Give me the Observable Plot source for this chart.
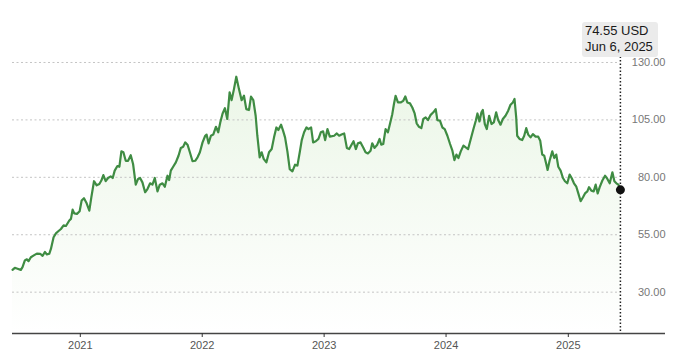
<!DOCTYPE html>
<html>
<head>
<meta charset="utf-8">
<script src="https://cdn.jsdelivr.net/npm/d3@7"></script>
<script src="https://cdn.jsdelivr.net/npm/@observablehq/plot@0.6"></script>
<style>
  html, body { margin: 0; padding: 0; background: #fff; }
  #wrap { position: relative; width: 680px; height: 358px; font-family: "Liberation Sans", Arial, Helvetica, sans-serif; }
  #tip { position: absolute; top: 22px; background: #ebebeb; border-radius: 3px; padding: 1px 5px 2px 3px;
         font-size: 13px; line-height: 16px; color: #1a1a1a; white-space: nowrap; }
</style>
</head>
<body>
<div id="wrap"></div>
<script>
const dates = [
"2020-06-12","2020-06-19","2020-06-27","2020-07-07","2020-07-12","2020-07-19","2020-07-25","2020-07-30","2020-08-06","2020-08-16",
"2020-08-24","2020-09-03","2020-09-10","2020-09-17","2020-09-23","2020-09-30","2020-10-05","2020-10-13","2020-10-20","2020-10-27",
"2020-11-04","2020-11-12","2020-11-19","2020-11-29","2020-12-04","2020-12-09","2020-12-14","2020-12-22","2020-12-30","2021-01-05",
"2021-01-12","2021-01-20","2021-01-28","2021-02-03","2021-02-11","2021-02-19","2021-02-27","2021-03-05","2021-03-11","2021-03-18",
"2021-03-25","2021-04-02","2021-04-08","2021-04-14","2021-04-22","2021-04-28","2021-05-04","2021-05-10","2021-05-17","2021-05-24",
"2021-06-01","2021-06-08","2021-06-16","2021-06-23","2021-06-29","2021-07-06","2021-07-14","2021-07-21","2021-07-29","2021-08-05",
"2021-08-12","2021-08-20","2021-08-27","2021-09-04","2021-09-11","2021-09-19","2021-09-24","2021-09-29","2021-10-06","2021-10-14",
"2021-10-22","2021-10-29","2021-11-05","2021-11-11","2021-11-18","2021-11-25","2021-12-03","2021-12-11","2021-12-18","2021-12-25",
"2022-01-02","2022-01-10","2022-01-14","2022-01-20","2022-01-27","2022-02-03","2022-02-11","2022-02-18","2022-02-24","2022-03-03",
"2022-03-10","2022-03-17","2022-03-24","2022-03-30","2022-04-06","2022-04-13","2022-04-21","2022-04-29","2022-05-06","2022-05-13",
"2022-05-21","2022-05-27","2022-06-03","2022-06-10","2022-06-15","2022-06-22","2022-06-28","2022-07-04","2022-07-12","2022-07-20",
"2022-07-28","2022-08-04","2022-08-11","2022-08-17","2022-08-25","2022-08-31","2022-09-06","2022-09-13","2022-09-20","2022-09-28",
"2022-10-06","2022-10-13","2022-10-20","2022-10-26","2022-11-02","2022-11-09","2022-11-15","2022-11-23","2022-11-29","2022-12-07",
"2022-12-15","2022-12-22","2022-12-29","2023-01-04","2023-01-11","2023-01-18","2023-01-31","2023-02-08","2023-02-15","2023-02-22",
"2023-03-02","2023-03-10","2023-03-17","2023-03-24","2023-03-30","2023-04-06","2023-04-12","2023-04-20","2023-04-28","2023-05-05",
"2023-05-12","2023-05-20","2023-05-25","2023-06-01","2023-06-09","2023-06-16","2023-06-21","2023-06-27","2023-07-04","2023-07-11",
"2023-07-17","2023-07-24","2023-07-29","2023-08-03","2023-08-10","2023-08-18","2023-08-26","2023-09-01","2023-09-07","2023-09-15",
"2023-09-22","2023-09-29","2023-10-05","2023-10-12","2023-10-19","2023-10-25","2023-11-01","2023-11-08","2023-11-16","2023-11-24",
"2023-12-01","2023-12-06","2023-12-14","2023-12-21","2023-12-28","2024-01-05","2024-01-13","2024-01-20","2024-01-26","2024-02-01",
"2024-02-07","2024-02-14","2024-02-22","2024-02-29","2024-03-07","2024-03-15","2024-03-23","2024-03-30","2024-04-04","2024-04-10",
"2024-04-16","2024-04-20","2024-04-26","2024-05-02","2024-05-09","2024-05-16","2024-05-23","2024-05-30","2024-06-05","2024-06-12",
"2024-06-19","2024-06-27","2024-07-05","2024-07-12","2024-07-19","2024-07-24","2024-07-29","2024-08-01","2024-08-08","2024-08-16",
"2024-08-22","2024-08-28","2024-09-03","2024-09-10","2024-09-17","2024-09-25","2024-10-03","2024-10-09","2024-10-15","2024-10-21",
"2024-10-27","2024-10-31","2024-11-06","2024-11-14","2024-11-20","2024-11-26","2024-12-02","2024-12-09","2024-12-16","2024-12-22",
"2024-12-29","2025-01-05","2025-01-11","2025-01-18","2025-01-25","2025-01-31","2025-02-07","2025-02-14","2025-02-20","2025-02-27",
"2025-03-04","2025-03-11","2025-03-18","2025-03-24","2025-03-30","2025-04-05","2025-04-13","2025-04-21","2025-04-28","2025-05-05",
"2025-05-13","2025-05-19","2025-05-25","2025-05-31","2025-06-06"
];
const closes = [
39.7,40.6,40.2,39.7,40.9,43.8,44.3,43.5,45.2,46.1,
46.8,46.7,45.8,47.5,46.4,46.7,48.8,53.9,55.6,56.5,
57.5,59.1,58.8,61.2,61.9,65.9,64.3,64.1,65.2,69.9,
70.9,68.7,65.5,71.3,78.3,76.5,77.1,78.6,81.0,78.3,
79.7,80.4,79.7,82.9,84.9,84.6,91.3,90.9,87.2,87.2,
89.6,85.8,76.8,79.3,79.7,77.8,73.5,74.9,77.4,76.8,
79.7,73.9,76.8,77.4,75.9,80.7,78.8,82.9,84.6,86.5,
89.4,92.8,93.3,95.2,94.2,90.9,87.0,87.2,88.7,90.9,
95.2,98.1,98.6,94.8,98.1,98.6,102.0,99.6,103.9,107.8,
110.1,105.4,117.0,113.6,118.4,123.8,118.4,113.6,115.5,109.7,
109.3,115.1,113.6,106.8,98.1,88.7,90.9,88.0,86.5,90.9,
92.3,97.4,101.7,100.6,102.9,100.3,97.4,91.3,83.6,82.6,
85.5,85.1,90.9,96.2,99.6,101.7,101.0,101.7,95.2,95.7,
96.7,99.6,100.0,96.2,101.0,97.7,98.1,99.1,98.1,98.6,
99.1,92.8,92.3,94.2,95.7,92.3,94.8,95.2,93.0,90.9,
90.4,91.6,94.8,92.8,94.2,96.7,94.2,94.5,101.0,99.6,
103.2,107.5,111.9,115.5,112.6,112.6,113.3,115.2,112.6,112.2,
110.4,107.8,103.5,102.0,101.4,105.4,106.1,104.9,107.2,108.3,
109.7,104.9,104.6,101.7,101.0,98.1,94.5,91.6,87.5,89.9,
88.4,91.3,93.8,93.0,92.3,96.7,101.0,104.6,107.8,104.3,
108.3,109.3,103.2,101.0,106.8,103.2,103.9,108.3,104.9,102.9,
105.4,106.8,109.0,111.6,112.6,114.1,106.1,98.1,96.7,96.2,
98.1,101.4,98.6,97.4,98.8,97.7,97.7,95.9,89.9,89.4,
85.8,83.2,87.2,91.3,88.4,89.9,84.6,82.9,79.7,78.3,
77.4,81.2,79.7,77.4,75.9,73.0,69.6,71.3,73.0,73.9,
75.7,74.2,73.9,76.8,73.0,75.7,78.6,80.7,79.3,77.4,
82.2,78.3,77.4,76.8,74.55
];
const yTicks = [30, 55, 80, 105, 130];
const yearTicks = ["2021-01-01","2022-01-01","2023-01-01","2024-01-01","2025-01-01"];
const xDomain = ["2020-06-12", "2025-10-19"];
const yDomain = [12, 140];
const gridEnd = "2025-05-29";
const currency = "USD";

const data = dates.map((d, i) => ({date: new Date(d), close: closes[i]}));
const last = data[data.length - 1];

const gradient = () => {
  const defs = d3.create("svg:defs");
  const g = defs.append("linearGradient").attr("id", "areaGrad")
    .attr("x1", 0).attr("y1", 0).attr("x2", 0).attr("y2", 1);
  g.append("stop").attr("offset", "0%").attr("stop-color", "#ebf6e7");
  g.append("stop").attr("offset", "100%").attr("stop-color", "#ffffff");
  return defs.node();
};

const chart = Plot.plot({
  width: 680,
  height: 358,
  marginTop: 39,
  marginBottom: 25,
  marginLeft: 12,
  marginRight: 15,
  style: {fontFamily: '"Liberation Sans", Arial, Helvetica, sans-serif', background: "#fff"},
  x: {type: "utc", domain: xDomain.map(d => new Date(d))},
  y: {domain: yDomain, axis: null},
  marks: [
    gradient,
    Plot.areaY(data, {x: "date", y1: yDomain[0], y2: "close", fill: "url(#areaGrad)"}),
    Plot.ruleY(yTicks, {x1: new Date(xDomain[0]), x2: new Date(gridEnd), stroke: "#c4c4c4", strokeWidth: 1, strokeDasharray: "2,2.5"}),
    Plot.text(yTicks, {y: d => d, text: d => d.toFixed(2), frameAnchor: "right", textAnchor: "end", fill: "#777", fontSize: 11}),
    Plot.lineY(data, {x: "date", y: "close", stroke: "#3f8c43", strokeWidth: 2.2, strokeLinejoin: "round"}),
    Plot.ruleY([yDomain[0]], {stroke: "#444", strokeWidth: 1.5}),
    Plot.axisX({ticks: yearTicks.map(d => new Date(d)), tickFormat: d3.utcFormat("%Y"), tickSize: 4, tickPadding: 4, stroke: "#333", fill: "#555", fontSize: 11, label: null}),
    Plot.ruleX([last], {x: "date", stroke: "#222", strokeWidth: 1.5, strokeDasharray: "1.5,2"}),
    Plot.dot([last], {x: "date", y: "close", r: 4.5, fill: "#111", stroke: "none"})
  ]
});

const wrap = document.getElementById("wrap");
wrap.appendChild(chart);

const xPix = chart.scale("x").apply(last.date);
const tip = document.createElement("div");
tip.id = "tip";
const fmtDate = d3.utcFormat("%b %-d, %Y");
tip.innerHTML = `<div>${last.close.toFixed(2)} ${currency}</div><div>${fmtDate(last.date)}</div>`;
wrap.appendChild(tip);
tip.style.left = (xPix - tip.offsetWidth / 2) + "px";
</script>
</body>
</html>
